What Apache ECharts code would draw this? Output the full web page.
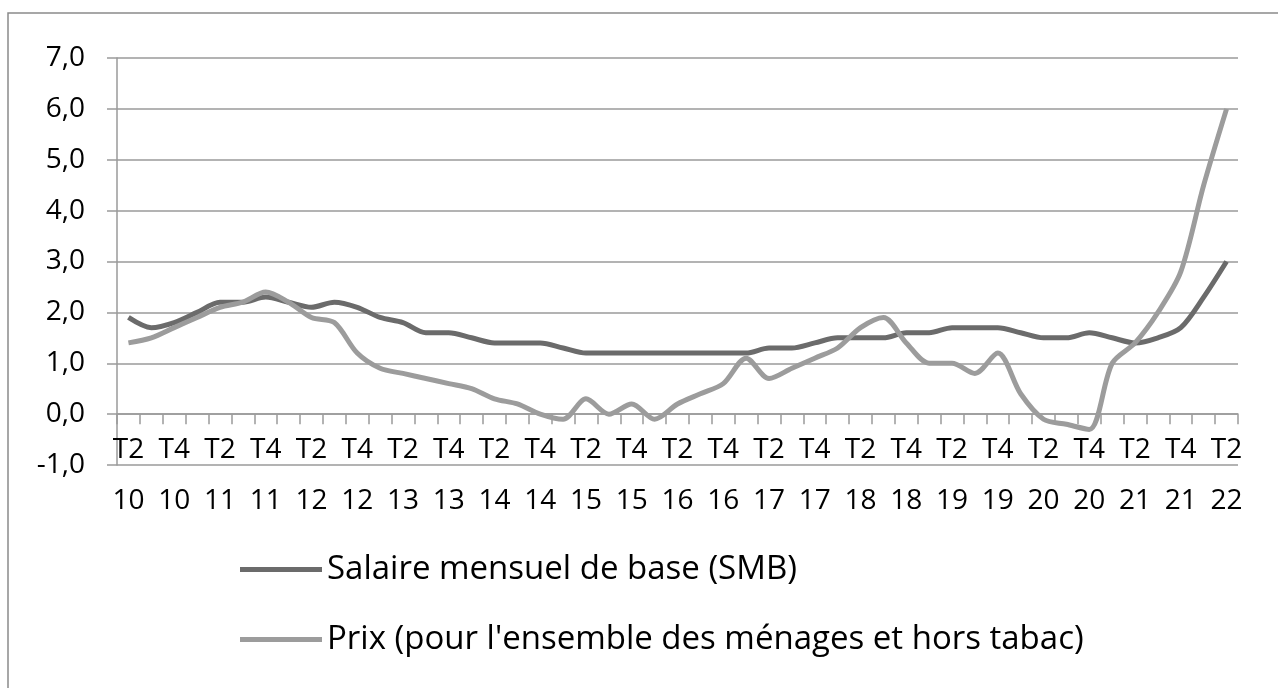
<!DOCTYPE html>
<html>
<head>
<meta charset="utf-8">
<script src="https://cdn.jsdelivr.net/npm/echarts@6/dist/echarts.min.js"></script>
<style>
  html, body { margin: 0; padding: 0; background: #fff; }
  #chart { width: 1278px; height: 688px; }
</style>
</head>
<body>
<div id="chart"></div>
<script>
// quarters, T2 2010 -> T2 2022
var quarters = [
  'T2 10', 'T3 10', 'T4 10',
  'T1 11', 'T2 11', 'T3 11', 'T4 11',
  'T1 12', 'T2 12', 'T3 12', 'T4 12',
  'T1 13', 'T2 13', 'T3 13', 'T4 13',
  'T1 14', 'T2 14', 'T3 14', 'T4 14',
  'T1 15', 'T2 15', 'T3 15', 'T4 15',
  'T1 16', 'T2 16', 'T3 16', 'T4 16',
  'T1 17', 'T2 17', 'T3 17', 'T4 17',
  'T1 18', 'T2 18', 'T3 18', 'T4 18',
  'T1 19', 'T2 19', 'T3 19', 'T4 19',
  'T1 20', 'T2 20', 'T3 20', 'T4 20',
  'T1 21', 'T2 21', 'T3 21', 'T4 21',
  'T1 22', 'T2 22'
];

var salaire = [
  1.9, 1.7, 1.8,
  2.0, 2.2, 2.2, 2.3,
  2.2, 2.1, 2.2, 2.1,
  1.9, 1.8, 1.6, 1.6,
  1.5, 1.4, 1.4, 1.4,
  1.3, 1.2, 1.2, 1.2,
  1.2, 1.2, 1.2, 1.2,
  1.2, 1.3, 1.3, 1.4,
  1.5, 1.5, 1.5, 1.6,
  1.6, 1.7, 1.7, 1.7,
  1.6, 1.5, 1.5, 1.6,
  1.5, 1.4, 1.5, 1.7,
  2.3, 3.0
];

var prix = [
  1.4, 1.5, 1.7,
  1.9, 2.1, 2.2, 2.4,
  2.2, 1.9, 1.8, 1.2,
  0.9, 0.8, 0.7, 0.6,
  0.5, 0.3, 0.2, 0.0,
  -0.1, 0.3, 0.0, 0.2,
  -0.1, 0.2, 0.4, 0.6,
  1.1, 0.7, 0.9, 1.1,
  1.3, 1.7, 1.9, 1.4,
  1.0, 1.0, 0.8, 1.2,
  0.4, -0.1, -0.2, -0.3,
  1.0, 1.4, 2.0, 2.8,
  4.5, 6.0
];

var nomSalaire = 'Salaire mensuel de base (SMB)';
var nomPrix = "Prix (pour l'ensemble des ménages et hors tabac)";

var police = '"Open Sans", Lato, sans-serif';
var gris = '#9a9a9a';

var chart = echarts.init(document.getElementById('chart'), null, { renderer: 'canvas' });

var option = {
  backgroundColor: '#ffffff',
  animation: false,
  textStyle: { fontFamily: police, color: '#000' },
  graphic: [{
    type: 'rect',
    shape: { x: 8, y: 13, width: 1300, height: 700 },
    style: { fill: 'none', stroke: '#8a8a8a', lineWidth: 1.5 },
    silent: true
  }],
  grid: { left: 117, right: 40, top: 58, bottom: 223 },
  legend: [{
    data: [{ name: nomSalaire, icon: 'rect' }],
    left: 240, top: 553,
    padding: 0,
    itemWidth: 82, itemHeight: 5,
    textStyle: { fontFamily: police, fontSize: 33, color: '#000' }
  }, {
    data: [{ name: nomPrix, icon: 'rect' }],
    left: 240, top: 623,
    padding: 0,
    itemWidth: 82, itemHeight: 5,
    textStyle: { fontFamily: police, fontSize: 33, color: '#000' }
  }],
  xAxis: {
    type: 'category',
    data: quarters,
    boundaryGap: true,
    axisLine: { onZero: true, lineStyle: { color: gris, width: 1.5 } },
    axisTick: { show: true, interval: 0, length: 10, lineStyle: { color: gris, width: 1.5 } },
    axisLabel: {
      interval: 1,
      margin: -40,
      fontSize: 28,
      lineHeight: 51,
      color: '#000',
      fontFamily: police,
      formatter: function (v) { return v.replace(' ', '\n'); }
    },
    splitLine: { show: false }
  },
  yAxis: {
    type: 'value',
    min: -1, max: 7, interval: 1,
    axisLine: { show: true, lineStyle: { color: gris, width: 1.5 } },
    axisTick: { show: true, length: 10, lineStyle: { color: gris, width: 1.5 } },
    axisLabel: {
      margin: 32,
      fontSize: 28,
      color: '#000',
      fontFamily: police,
      formatter: function (v) { return v.toFixed(1).replace('.', ','); }
    },
    splitLine: { show: true, lineStyle: { color: gris, width: 1.5 } }
  },
  series: [{
    name: nomSalaire,
    type: 'line',
    data: salaire,
    symbol: 'none',
    smooth: 0.3,
    lineStyle: { color: '#6b6b6b', width: 5 },
    itemStyle: { color: '#6b6b6b' }
  }, {
    name: nomPrix,
    type: 'line',
    data: prix,
    symbol: 'none',
    smooth: 0.3,
    lineStyle: { color: '#9c9c9c', width: 5 },
    itemStyle: { color: '#9c9c9c' }
  }]
};

chart.setOption(option);
</script>
</body>
</html>
